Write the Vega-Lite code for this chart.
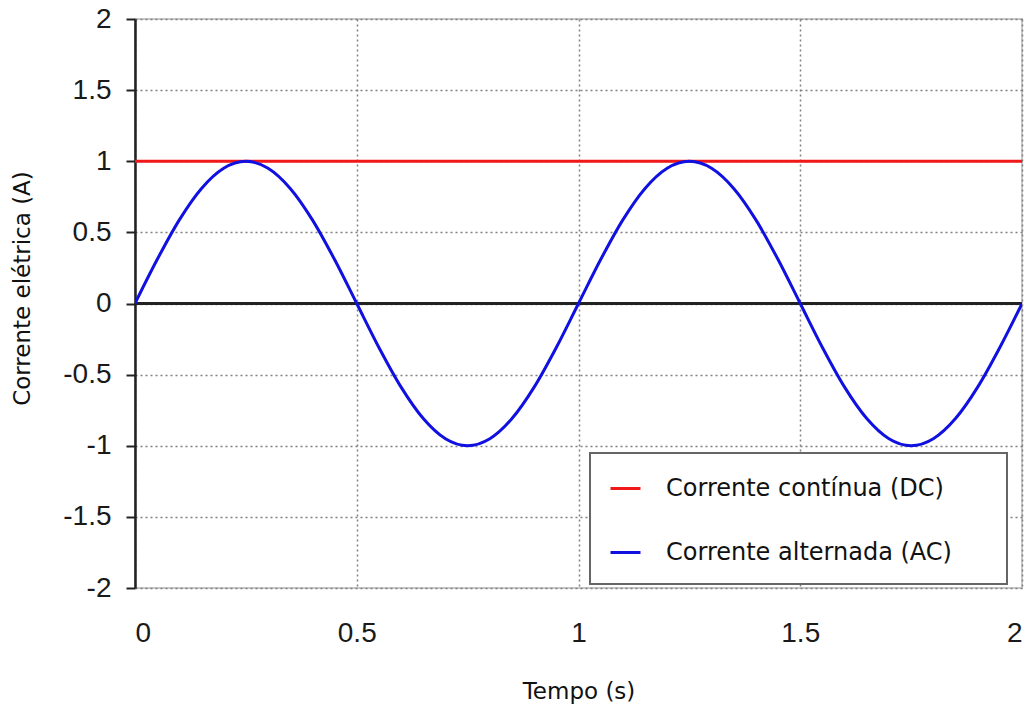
{
  "$schema": "https://vega.github.io/schema/vega-lite/v6.json",
  "width": 887,
  "height": 569,
  "autosize": "none",
  "padding": {"left": 135, "top": 19, "right": 12, "bottom": 121},
  "background": "white",
  "data": {
    "values": [
      {"t": 0, "i": 1, "serie": "Corrente contínua (DC)"},
      {"t": 2, "i": 1, "serie": "Corrente contínua (DC)"},
      {"t": 0, "i": 0, "serie": "Corrente alternada (AC)"},
      {"t": 0.05, "i": 0.309, "serie": "Corrente alternada (AC)"},
      {"t": 0.1, "i": 0.588, "serie": "Corrente alternada (AC)"},
      {"t": 0.15, "i": 0.809, "serie": "Corrente alternada (AC)"},
      {"t": 0.2, "i": 0.951, "serie": "Corrente alternada (AC)"},
      {"t": 0.25, "i": 1, "serie": "Corrente alternada (AC)"},
      {"t": 0.3, "i": 0.951, "serie": "Corrente alternada (AC)"},
      {"t": 0.35, "i": 0.809, "serie": "Corrente alternada (AC)"},
      {"t": 0.4, "i": 0.588, "serie": "Corrente alternada (AC)"},
      {"t": 0.45, "i": 0.309, "serie": "Corrente alternada (AC)"},
      {"t": 0.5, "i": 0, "serie": "Corrente alternada (AC)"},
      {"t": 0.55, "i": -0.309, "serie": "Corrente alternada (AC)"},
      {"t": 0.6, "i": -0.588, "serie": "Corrente alternada (AC)"},
      {"t": 0.65, "i": -0.809, "serie": "Corrente alternada (AC)"},
      {"t": 0.7, "i": -0.951, "serie": "Corrente alternada (AC)"},
      {"t": 0.75, "i": -1, "serie": "Corrente alternada (AC)"},
      {"t": 0.8, "i": -0.951, "serie": "Corrente alternada (AC)"},
      {"t": 0.85, "i": -0.809, "serie": "Corrente alternada (AC)"},
      {"t": 0.9, "i": -0.588, "serie": "Corrente alternada (AC)"},
      {"t": 0.95, "i": -0.309, "serie": "Corrente alternada (AC)"},
      {"t": 1, "i": 0, "serie": "Corrente alternada (AC)"},
      {"t": 1.05, "i": 0.309, "serie": "Corrente alternada (AC)"},
      {"t": 1.1, "i": 0.588, "serie": "Corrente alternada (AC)"},
      {"t": 1.15, "i": 0.809, "serie": "Corrente alternada (AC)"},
      {"t": 1.2, "i": 0.951, "serie": "Corrente alternada (AC)"},
      {"t": 1.25, "i": 1, "serie": "Corrente alternada (AC)"},
      {"t": 1.3, "i": 0.951, "serie": "Corrente alternada (AC)"},
      {"t": 1.35, "i": 0.809, "serie": "Corrente alternada (AC)"},
      {"t": 1.4, "i": 0.588, "serie": "Corrente alternada (AC)"},
      {"t": 1.45, "i": 0.309, "serie": "Corrente alternada (AC)"},
      {"t": 1.5, "i": 0, "serie": "Corrente alternada (AC)"},
      {"t": 1.55, "i": -0.309, "serie": "Corrente alternada (AC)"},
      {"t": 1.6, "i": -0.588, "serie": "Corrente alternada (AC)"},
      {"t": 1.65, "i": -0.809, "serie": "Corrente alternada (AC)"},
      {"t": 1.7, "i": -0.951, "serie": "Corrente alternada (AC)"},
      {"t": 1.75, "i": -1, "serie": "Corrente alternada (AC)"},
      {"t": 1.8, "i": -0.951, "serie": "Corrente alternada (AC)"},
      {"t": 1.85, "i": -0.809, "serie": "Corrente alternada (AC)"},
      {"t": 1.9, "i": -0.588, "serie": "Corrente alternada (AC)"},
      {"t": 1.95, "i": -0.309, "serie": "Corrente alternada (AC)"},
      {"t": 2, "i": 0, "serie": "Corrente alternada (AC)"}
    ]
  },
  "layer": [
    {
      "mark": {"type": "rule", "color": "#222222", "strokeWidth": 2},
      "encoding": {"y": {"datum": 0, "type": "quantitative"}}
    },
    {
      "mark": {"type": "line", "strokeWidth": 3, "interpolate": "monotone", "clip": true},
      "encoding": {
        "x": {
          "field": "t",
          "type": "quantitative",
          "title": "Tempo (s)",
          "scale": {"domain": [0, 2], "nice": false},
          "axis": {
            "values": [0, 0.5, 1, 1.5, 2],
            "labelExpr": "toString(datum.value)",
            "ticks": false,
            "domain": false,
            "labelPadding": 31,
            "labelFont": "Liberation Sans",
            "labelFontSize": 28,
            "labelColor": "#1a1a1a",
            "titleFont": "DejaVu Sans",
            "titleFontSize": 23,
            "titleFontWeight": "normal",
            "titleColor": "#111111",
            "titlePadding": 33,
            "grid": true,
            "gridDash": [2, 3],
            "gridColor": "#808080",
            "gridWidth": 1.5
          }
        },
        "y": {
          "field": "i",
          "type": "quantitative",
          "title": "Corrente elétrica (A)",
          "scale": {"domain": [-2, 2], "nice": false},
          "axis": {
            "values": [-2, -1.5, -1, -0.5, 0, 0.5, 1, 1.5, 2],
            "labelExpr": "toString(datum.value)",
            "tickSize": 9,
            "tickColor": "#222222",
            "tickWidth": 2,
            "domainColor": "#222222",
            "domainWidth": 2.5,
            "labelPadding": 15,
            "labelFont": "Liberation Sans",
            "labelFontSize": 28,
            "labelColor": "#1a1a1a",
            "titleFont": "DejaVu Sans",
            "titleFontSize": 23,
            "titleFontWeight": "normal",
            "titleColor": "#111111",
            "titlePadding": 28,
            "titleY": 269,
            "grid": true,
            "gridDash": [2, 3],
            "gridColor": "#808080",
            "gridWidth": 1.5
          }
        },
        "color": {
          "field": "serie",
          "type": "nominal",
          "title": null,
          "scale": {
            "domain": ["Corrente contínua (DC)", "Corrente alternada (AC)"],
            "range": ["#f01818", "#1010e0"]
          },
          "legend": {
            "orient": "none",
            "legendX": 455,
            "legendY": 434,
            "padding": 19,
            "symbolType": "stroke",
            "symbolSize": 900,
            "symbolStrokeWidth": 3,
            "labelOffset": 24,
            "rowPadding": 35,
            "labelFont": "DejaVu Sans",
            "labelFontSize": 24,
            "labelColor": "#111111",
            "labelLimit": 500,
            "labelExpr": "datum.label + '\u2800\u2800'",
            "fillColor": "white",
            "strokeColor": "#666666"
          }
        }
      }
    }
  ],
  "config": {
    "view": {"stroke": "#c8c8c8", "strokeWidth": 2},
    "legend": {"strokeWidth": 2}
  }
}
